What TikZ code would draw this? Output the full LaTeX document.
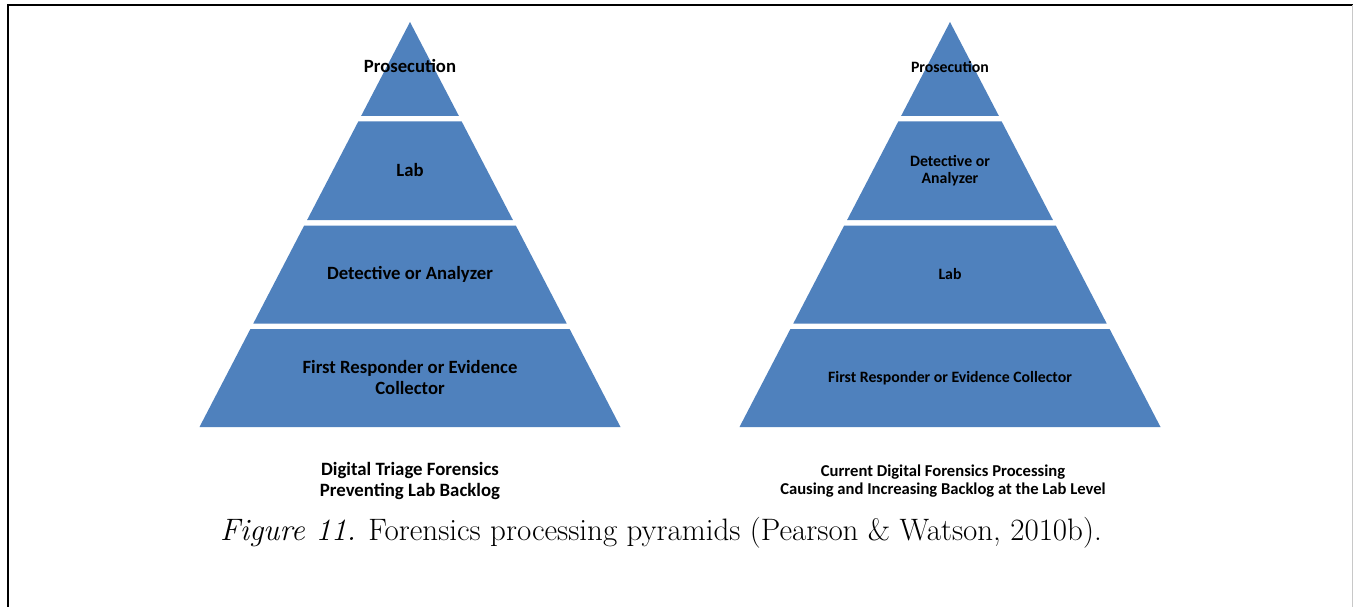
\documentclass[tikz,border=0pt]{standalone}
\usepackage{fontspec}
\newfontfamily\carlito{Carlito}
\definecolor{pyr}{HTML}{4F81BD}
\definecolor{rightedge}{HTML}{C8C8C8}
\tikzset{
  band/.style={fill=pyr,draw=none},
  biglabel/.style={font=\carlito\bfseries\fontsize{18.7}{21}\selectfont,align=center,inner sep=0pt},
  smalllabel/.style={font=\carlito\bfseries\fontsize{15.8}{17}\selectfont,align=center,inner sep=0pt},
  leftcap/.style={font=\carlito\bfseries\fontsize{18.8}{21}\selectfont,align=center,inner sep=0pt},
  rightcap/.style={font=\carlito\bfseries\fontsize{16.6}{18}\selectfont,align=center,inner sep=0pt},
  figcap/.style={font=\fontsize{31}{36}\selectfont,inner sep=0pt}
}
\newcommand{\pyramid}[1]{%
  % #1 = centre x
  \fill[band] (#1,22) -- (#1+48.9,116) -- (#1-48.9,116) -- cycle;
  \fill[band] (#1-51.7,121.5) -- (#1+51.7,121.5) -- (#1+102.9,220) -- (#1-102.9,220) -- cycle;
  \fill[band] (#1-105.8,225.5) -- (#1+105.8,225.5) -- (#1+156.7,323.5) -- (#1-156.7,323.5) -- cycle;
  \fill[band] (#1-159.6,329) -- (#1+159.6,329) -- (#1+210.5,427) -- (#1-210.5,427) -- cycle;
}
\begin{document}
\begin{tikzpicture}[x=1pt,y=-1pt]
\useasboundingbox (0,0) rectangle (1353,607);
\fill[white] (0,0) rectangle (1353,607);
% frame
\draw[black,line width=2pt] (8.3,607) -- (8.3,5) -- (1353,5);
\draw[rightedge,line width=1pt] (1352.5,5) -- (1352.5,607);
% pyramids
\pyramid{410}
\pyramid{950}
% left labels
\node[biglabel] (lpros) at (410,66) {Prosecution};
\node[biglabel] (llab) at (410,170.5) {Lab};
\node[biglabel] (ldet) at (410,274.5) {Detective or Analyzer};
\node[biglabel] (lfirst) at (410,378) {First Responder or Evidence\\Collector};
% right labels
\node[smalllabel] (rpros) at (950,67.5) {Prosecution};
\node[smalllabel] (rdet) at (950,170.5) {Detective or\\Analyzer};
\node[smalllabel] (rlab) at (950,274) {Lab};
\node[smalllabel] (rfirst) at (950,378) {First Responder or Evidence Collector};
% captions
\node[leftcap] (lcap) at (410,481) {Digital Triage Forensics\\Preventing Lab Backlog};
\node[rightcap] (rcap) at (943,481) {Current Digital Forensics Processing\\Causing and Increasing Backlog at the Lab Level};
\node[figcap] (fig) at (661,533) {\textit{Figure 11.} Forensics processing pyramids (Pearson \& Watson, 2010b).};
\end{tikzpicture}
\end{document}
